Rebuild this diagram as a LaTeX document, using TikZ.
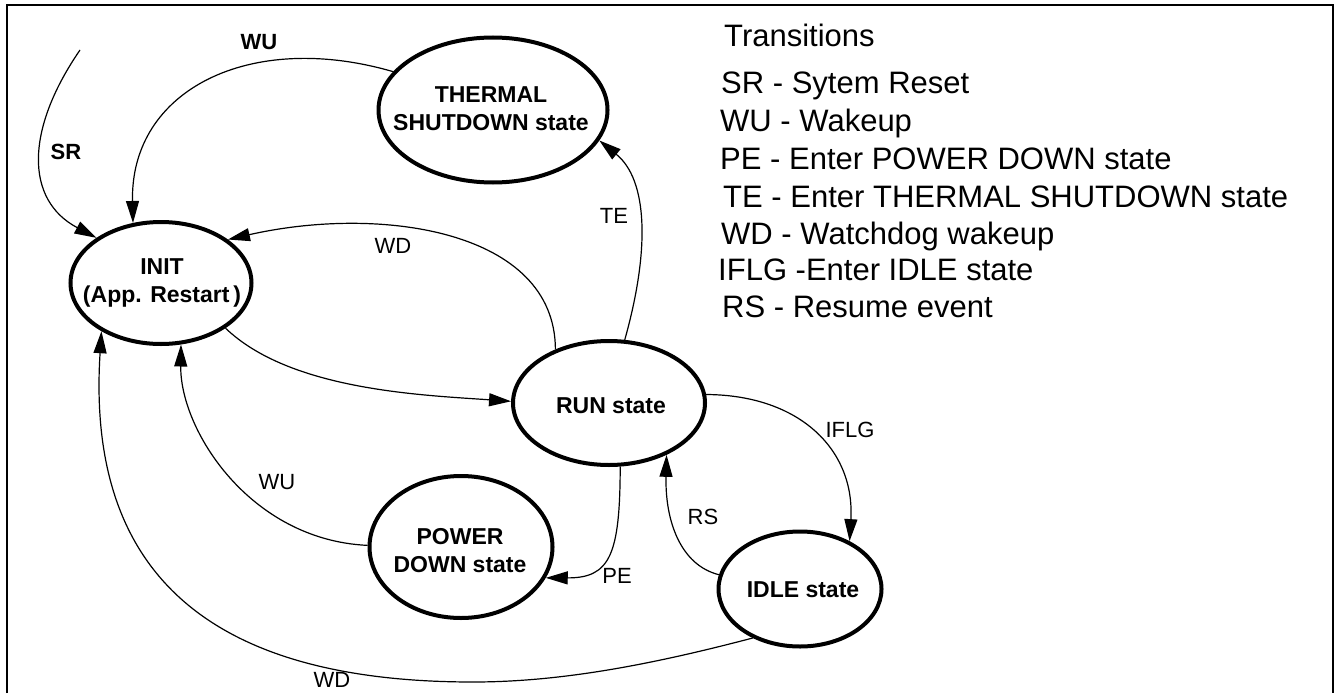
\documentclass[tikz,border=0pt]{standalone}
\usepackage{fontspec}
\setmainfont{Liberation Sans}
\usetikzlibrary{shapes.geometric,arrows.meta}
\begin{document}
\begin{tikzpicture}[x=1pt,y=-1pt,
		stnode/.style={draw,ellipse,line width=4pt,inner sep=0pt},
		sttext/.style={align=center,inner sep=0pt,font=\fontsize{23}{28}\selectfont\bfseries},
		lbl/.style={inner sep=0pt,font=\fontsize{22}{26}\selectfont},
		blbl/.style={inner sep=0pt,font=\fontsize{22}{26}\selectfont\bfseries},
		leg/.style={anchor=base west,inner sep=0pt,font=\fontsize{31}{37}\selectfont},
		arr/.style={-{Triangle[length=22pt,width=13pt]},line width=1.2pt}]
		\useasboundingbox (0,0) rectangle (1335,693);
		\draw [line width=1.5pt] (7,693) -- (7,5) -- (1333,5) -- (1333,693);
		\node [stnode,minimum width=181pt,minimum height=122pt] (init) at (161,283) {};
		\node [stnode,minimum width=229pt,minimum height=145pt] (thermal) at (493,110) {};
		\node [stnode,minimum width=192pt,minimum height=124pt] (run) at (609,403) {};
		\node [stnode,minimum width=183pt,minimum height=142pt] (power) at (461,547) {};
		\node [stnode,minimum width=163pt,minimum height=115pt] (idle) at (800,589) {};
		\node [sttext] (initt) at (162,283) {INIT\\(App. Restart\,)};
		\node [sttext] (thermalt) at (491,109) {THERMAL\\SHUTDOWN state};
		\node [sttext] (runt) at (611,406) {RUN state};
		\node [sttext] (powert) at (460,551) {POWER\\DOWN state};
		\node [sttext] (idlet) at (803,590) {IDLE state};
		\coordinate (srstart) at (80,50);
		\draw [arr] (srstart) .. controls (25,130) and (25,200) .. (init.145);
		\draw [arr] (thermal.159) .. controls (250,30) and (130,90) .. (init.115);
		\draw [arr] (run.135) .. controls (555,230) and (380,205) .. (init.33);
		\draw [arr] (run.76) .. controls (650,250) and (648,180) .. (thermal.344);
		\draw [arr] (init.325) .. controls (290,390) and (420,395) .. (run.179);
		\draw [arr] (power.179) .. controls (250,540) and (180,430) .. (init.288);
		\draw [arr] (idle.226) .. controls (650,665) and (560,682) .. (473,682) .. controls (230,682) and (85,590) .. (init.219);
		\draw [arr] (run.5) .. controls (800,395) and (855,450) .. (idle.44);
		\draw [arr] (idle.170) .. controls (680,565) and (665,520) .. (run.318);
		\draw [arr] (run.280) .. controls (620,555) and (610,578) .. (power.340);
		\node [blbl] (wutop) at (259,42) {WU};
		\node [blbl] (sr) at (66,152) {SR};
		\node [lbl] (wdtop) at (393,246) {WD};
		\node [lbl] (te) at (614,216) {TE};
		\node [lbl] (wulow) at (277,482) {WU};
		\node [lbl] (iflg) at (850,430) {IFLG};
		\node [lbl] (rs) at (703,517) {RS};
		\node [lbl] (pe) at (617,576) {PE};
		\node [lbl] (wdlow) at (332,680) {WD};
		\node [leg] (leg0) at (724,47) {Transitions};
		\node [leg] (leg1) at (721,93) {SR - Sytem Reset};
		\node [leg] (leg2) at (720,131) {WU - Wakeup};
		\node [leg] (leg3) at (720,169) {PE - Enter POWER DOWN state};
		\node [leg] (leg4) at (723,207) {TE - Enter THERMAL SHUTDOWN state};
		\node [leg] (leg5) at (721,244) {WD - Watchdog wakeup};
		\node [leg] (leg6) at (718,280) {IFLG -Enter IDLE state};
		\node [leg] (leg7) at (722,317) {RS - Resume event};
	\end{tikzpicture}
\end{document}
